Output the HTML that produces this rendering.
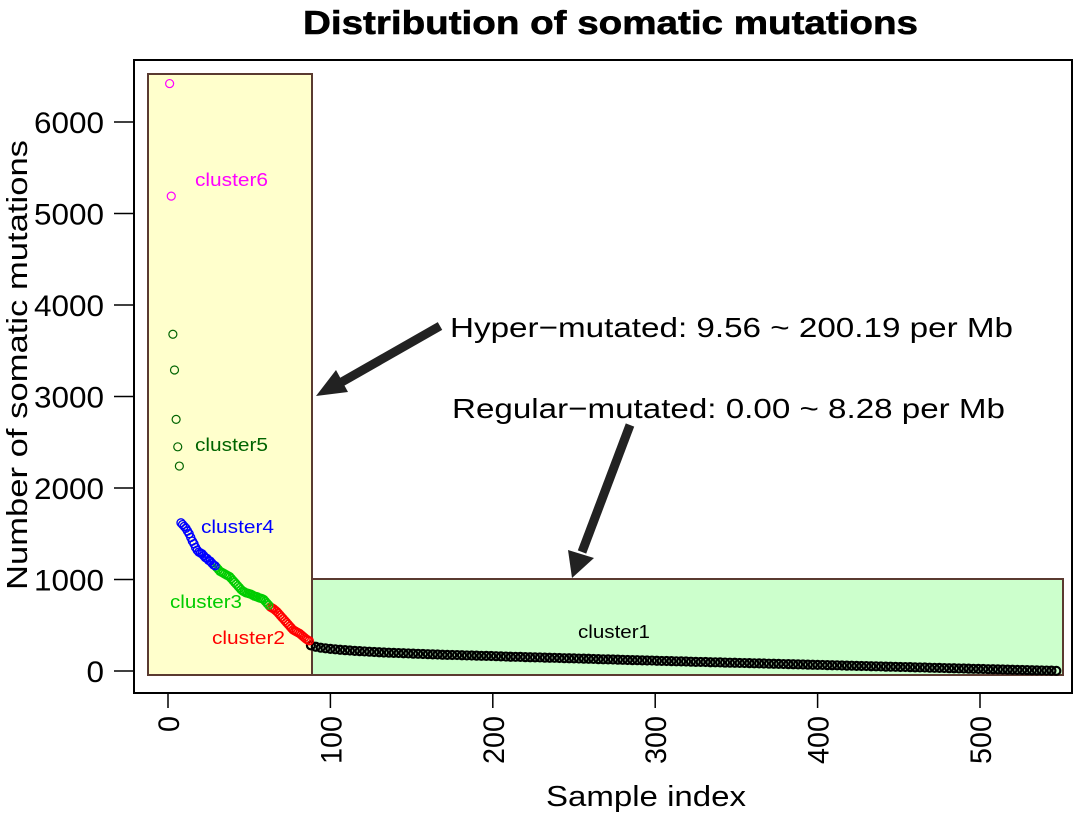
<!DOCTYPE html>
<html><head><meta charset="utf-8"><style>
body{margin:0;background:#fff}
svg text{font-family:"Liberation Sans",Helvetica,sans-serif}
</style></head><body>
<svg id="chart" width="1087" height="823" xmlns="http://www.w3.org/2000/svg">
<text x="303" y="34" font-size="33" font-weight="bold" textLength="615" lengthAdjust="spacingAndGlyphs" stroke="#000" stroke-width="0.6">Distribution of somatic mutations</text>
<rect x="148" y="74" width="164" height="601" fill="#FFFFCC" stroke="#5a3a30" stroke-width="2"/>
<rect x="312" y="579" width="751" height="96" fill="#CCFFCC" stroke="#5a3a30" stroke-width="2"/>
<g id="points"></g>
<rect x="134" y="60" width="938" height="633" fill="none" stroke="#000" stroke-width="2"/>
<g id="axes"></g>
<text x="546" y="806" font-size="29" textLength="200" lengthAdjust="spacingAndGlyphs">Sample index</text>
<text transform="translate(27,590) rotate(-90)" font-size="29" textLength="450" lengthAdjust="spacingAndGlyphs">Number of somatic mutations</text>
<text x="195" y="186" font-size="18" textLength="73" lengthAdjust="spacingAndGlyphs" fill="#ff00ff">cluster6</text>
<text x="195" y="451" font-size="18" textLength="73" lengthAdjust="spacingAndGlyphs" fill="#006400">cluster5</text>
<text x="201" y="533" font-size="18" textLength="73" lengthAdjust="spacingAndGlyphs" fill="#0000ff">cluster4</text>
<text x="170" y="608" font-size="18" textLength="72" lengthAdjust="spacingAndGlyphs" fill="#00cc00">cluster3</text>
<text x="212" y="644" font-size="18" textLength="73" lengthAdjust="spacingAndGlyphs" fill="#ff0000">cluster2</text>
<text x="578" y="638" font-size="18" textLength="72" lengthAdjust="spacingAndGlyphs" fill="#000">cluster1</text>
<text x="450" y="337" font-size="28" textLength="563" lengthAdjust="spacingAndGlyphs">Hyper−mutated: 9.56 ~ 200.19 per Mb</text>
<text x="452" y="418" font-size="28" textLength="553" lengthAdjust="spacingAndGlyphs">Regular−mutated: 0.00 ~ 8.28 per Mb</text>
<line x1="440" y1="326" x2="340" y2="383" stroke="#222" stroke-width="9"/>
<polygon points="316,396 336,370 348,392" fill="#222"/>
<line x1="630" y1="425" x2="582" y2="552" stroke="#222" stroke-width="9"/>
<polygon points="572,578 568,550 594,558" fill="#222"/>
</svg>
<script>
const cluster6Values=[6420,5190];
const cluster5Values=[3680,3290,2750,2450,2240];
const cluster4Values=[1620,1600,1580,1560,1530,1500,1460,1420,1390,1350,1320,1300,1290,1280,1260,1240,1230,1210,1200,1180,1160,1150];
const cluster3Values=[1130,1110,1090,1080,1070,1060,1050,1040,1030,1010,990,970,950,930,910,890,875,865,855,850,845,840,830,820,815,810,800,795,790,780,760,740,720];
const cluster2Values=[700,690,680,665,650,630,610,590,570,550,530,510,490,470,450,440,430,420,410,395,380,365,350,340,330];
const cluster1Values=[280,265,255,248,242,237,232,228,224,220,217,214,211,208,205,202,200,198,196,194,192,190,188,186,184,182,180,178,176,175,174,172,170,169,168,166,165,164,162,160,158,156,155,154,152,150,149,148,146,145,144,142,140,139,138,136,135,134,132,130,128,127,126,124,122,120,119,118,116,115,114,112,110,109,108,106,105,104,102,100,99,98,96,95,94,92,91,90,88,87,86,84,83,82,80,79,78,76,75,74,72,71,70,68,67,66,64,63,62,60,59,58,56,55,54,52,51,50,48,47,46,44,43,42,40,39,38,36,35,34,32,31,30,28,27,26,24,23,22,20,19,18,16,15,14,12,11,10,8,7,6,5,4,2];
const xTicks=[0,100,200,300,400,500];
const yTicks=[0,1000,2000,3000,4000,5000,6000];
const NS="http://www.w3.org/2000/svg";
function xs(i){return 168+i*1.624;}
function ys(v){return 671-v*0.0915;}
const pg=document.getElementById('points');
function drawSeries(vals,start,step,color,name,sw){
  vals.forEach((v,k)=>{
    const c=document.createElementNS(NS,'circle');
    c.setAttribute('cx',xs(start+k*step));c.setAttribute('cy',ys(v));c.setAttribute('r',4);
    c.setAttribute('fill','none');c.setAttribute('stroke',color);c.setAttribute('stroke-width',sw);
    
    
    pg.appendChild(c);
  });
}
drawSeries(cluster1Values,88,3,'#000','cluster1-point',2.2);
drawSeries(cluster2Values,63,1,'#ff0000','cluster2-point',1.4);
drawSeries(cluster3Values,30,1,'#00cc00','cluster3-point',1.4);
drawSeries(cluster4Values,8,1,'#0000ff','cluster4-point',1.4);
drawSeries(cluster5Values,3,1,'#006400','cluster5-point',1.2);
drawSeries(cluster6Values,1,1,'#ff00ff','cluster6-point',1.2);
const ag=document.getElementById('axes');
xTicks.forEach(t=>{
  const l=document.createElementNS(NS,'line');
  l.setAttribute('x1',xs(t));l.setAttribute('x2',xs(t));l.setAttribute('y1',693);l.setAttribute('y2',708);
  l.setAttribute('stroke','#000');l.setAttribute('stroke-width',1.5);
  
  
  ag.appendChild(l);
  const tx=document.createElementNS(NS,'text');
  tx.setAttribute('transform',`translate(${xs(t)+11},716) rotate(-90)`);
  tx.setAttribute('text-anchor','end');tx.setAttribute('font-size',30);
  tx.setAttribute('textLength',String(t).length*16);tx.setAttribute('lengthAdjust','spacingAndGlyphs');
  tx.textContent=t;
  
  
  ag.appendChild(tx);
});
yTicks.forEach(t=>{
  const l=document.createElementNS(NS,'line');
  l.setAttribute('x1',114);l.setAttribute('x2',134);l.setAttribute('y1',ys(t));l.setAttribute('y2',ys(t));
  l.setAttribute('stroke','#000');l.setAttribute('stroke-width',1.5);
  
  
  ag.appendChild(l);
  const tx=document.createElementNS(NS,'text');
  tx.setAttribute('x',104);tx.setAttribute('y',ys(t)+11);
  tx.setAttribute('text-anchor','end');tx.setAttribute('font-size',30);
  tx.setAttribute('textLength',String(t).length*17.5);tx.setAttribute('lengthAdjust','spacingAndGlyphs');
  tx.textContent=t;
  
  
  ag.appendChild(tx);
});
</script>
</body></html>
